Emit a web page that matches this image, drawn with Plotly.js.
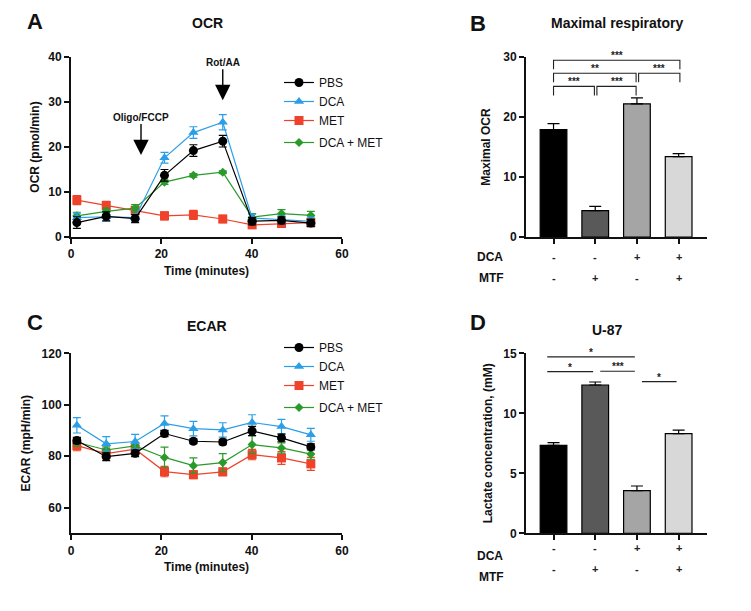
<!DOCTYPE html>
<html>
<head>
<meta charset="utf-8">
<script src="https://cdn.plot.ly/plotly-3.0.1.min.js"></script>
<style>html,body{margin:0;padding:0;background:#fff;}#chart{width:751px;height:611px;}</style>
</head>
<body>
<div id="chart"></div>
<script>
// ---------- DATA ----------
const time = [1.3, 7.8, 14.2, 20.7, 27.1, 33.6, 40.1, 46.6, 53.1];
const seriesNames = ['PBS', 'DCA', 'MET', 'DCA + MET'];

const ocrPBS    = [3.2, 4.6, 4.1, 13.7, 19.2, 21.3, 3.5, 3.7, 3.1];
const ocrDCA    = [4.3, 4.5, 4.3, 17.6, 23.2, 25.5, 4.2, 3.8, 3.5];
const ocrMET    = [8.2, 7.0, 5.9, 4.7, 4.9, 4.0, 2.7, 3.0, 3.2];
const ocrDCAMET = [4.7, 5.7, 6.4, 12.2, 13.7, 14.4, 4.4, 5.2, 4.8];
const ocrErrPBS    = [1.3, 1.0, 0.9, 1.3, 1.3, 1.3, 0.8, 0.8, 0.8];
const ocrErrDCA    = [1.0, 0.9, 0.8, 1.2, 1.3, 1.7, 0.9, 0.9, 0.9];
const ocrErrMET    = [1.0, 0.9, 0.9, 0.9, 1.0, 0.8, 0.8, 0.8, 0.8];
const ocrErrDCAMET = [0.8, 0.7, 0.8, 0.5, 0.4, 0.3, 0.8, 0.9, 0.9];

const ecarPBS    = [86.1, 79.8, 81.1, 88.8, 85.8, 85.5, 89.8, 87.1, 83.6];
const ecarDCA    = [92.0, 84.8, 85.7, 92.7, 90.7, 90.2, 93.1, 91.5, 88.3];
const ecarMET    = [84.1, 81.0, 82.7, 74.0, 72.8, 73.9, 80.6, 79.3, 77.0];
const ecarDCAMET = [85.4, 82.4, 84.0, 79.5, 76.3, 77.5, 84.5, 83.2, 80.8];
const ecarErrPBS    = [1.2, 1.5, 1.3, 1.2, 0.9, 1.0, 1.8, 1.5, 1.2];
const ecarErrDCA    = [3.0, 2.8, 2.8, 3.0, 2.8, 2.8, 3.0, 2.8, 2.5];
const ecarErrMET    = [2.0, 2.0, 1.8, 2.0, 1.5, 1.5, 2.0, 2.5, 2.5];
const ecarErrDCAMET = [1.5, 1.2, 1.2, 4.0, 3.0, 3.5, 3.5, 2.0, 2.0];

const groups = [0, 1, 2, 3];
const dcaSigns = ['-', '-', '+', '+'];
const mtfSigns = ['-', '+', '-', '+'];
const maxOCR    = [17.9, 4.4, 22.2, 13.4];
const maxOCRErr = [1.0, 0.7, 1.0, 0.5];
const lactate    = [7.33, 12.36, 3.56, 8.3];
const lactateErr = [0.22, 0.25, 0.38, 0.3];

// comparisons: [from, to, label, level]
const compB = [[0, 1, '***', 25.1], [1, 2, '***', 25.1], [0, 2, '**', 27.3], [2, 3, '***', 27.3], [0, 3, '***', 29.45]];
const compD = [[0, 2, '*', 14.7], [0, 1, '*', 13.47], [1, 2, '***', 13.5], [2, 3, '*', 12.64]];

const injections = [[15.5, 'Oligo/FCCP', 18.2], [33.6, 'Rot/AA', 30.4]];

// ---------- STYLE ----------
const W = 751, H = 611;
const FONT = 'Liberation Sans, Arial, sans-serif';
const colors = ['#000000', '#2b9ee8', '#f0412a', '#2a9a2a'];
const symbols = ['circle', 'triangle-up', 'square', 'diamond'];
const msizes = [9, 9, 9, 7];
const barColors = ['#000000', '#595959', '#a5a5a5', '#d8d8d8'];

const px = v => v / W;
const py = v => 1 - v / H;

const traces = [];
const ocrSets = [[ocrPBS, ocrErrPBS], [ocrDCA, ocrErrDCA], [ocrMET, ocrErrMET], [ocrDCAMET, ocrErrDCAMET]];
const ecarSets = [[ecarPBS, ecarErrPBS], [ecarDCA, ecarErrDCA], [ecarMET, ecarErrMET], [ecarDCAMET, ecarErrDCAMET]];

function lineTrace(i, ys, errs, xa, ya, leg) {
  return {
    type: 'scatter', mode: 'lines+markers', x: time, y: ys, name: seriesNames[i],
    xaxis: xa, yaxis: ya, legend: leg, legendgroup: (i === 3 ? 'g2' : 'g1') + leg, legendrank: i + 1,
    line: {color: colors[i], width: 1.2},
    marker: {color: colors[i], symbol: symbols[i], size: msizes[i]},
    error_y: {type: 'data', array: errs, color: colors[i], thickness: 1.2, width: 4},
    cliponaxis: false
  };
}
// draw order: PBS on top of others like reference
[2, 3, 1, 0].forEach(i => traces.push(lineTrace(i, ocrSets[i][0], ocrSets[i][1], 'x', 'y', 'legend')));
[2, 3, 1, 0].forEach(i => traces.push(lineTrace(i, ecarSets[i][0], ecarSets[i][1], 'x2', 'y2', 'legend2')));

function barTrace(vals, errs, xa, ya) {
  return {
    type: 'bar', x: groups, y: vals, xaxis: xa, yaxis: ya, width: 0.64, showlegend: false,
    marker: {color: barColors, line: {color: '#000', width: 1.2}},
    error_y: {type: 'data', symmetric: false, array: errs, arrayminus: groups.map(() => 0), color: '#000', thickness: 1.2, width: 6}
  };
}
traces.push(barTrace(maxOCR, maxOCRErr, 'x3', 'y3'));
traces.push(barTrace(lactate, lactateErr, 'x4', 'y4'));

const tickFont = {family: FONT, size: 12, weight: 'bold', color: '#111'};
const titleFont = {family: FONT, size: 12, weight: 'bold', color: '#111'};
function axis(domain, range, extra) {
  return Object.assign({
    domain: domain, range: range, showline: true, linewidth: 2, linecolor: '#111',
    ticks: 'outside', ticklen: 5, tickwidth: 2, tickcolor: '#111', showgrid: false, zeroline: false,
    tickfont: tickFont, fixedrange: true
  }, extra);
}
const lineXdom = [px(71), px(342)];
const barXdom = [px(526), px(707)];
const topYdom = [py(237), py(57)];
const botYdom = [py(533.3), py(353.3)];

const annotations = [];
const shapes = [];
function txt(x, y, text, size, extra) {
  annotations.push(Object.assign({xref: 'paper', yref: 'paper', x: px(x), y: py(y), text: text, showarrow: false,
    xanchor: 'center', yanchor: 'middle', font: {family: FONT, size: size, weight: 'bold', color: '#111'}}, extra || {}));
}
txt(35, 22, 'A', 22); txt(478, 23, 'B', 22); txt(35, 322, 'C', 22); txt(478, 322, 'D', 22);
txt(207, 23, 'OCR', 14); txt(617, 23, 'Maximal respiratory', 14); txt(207, 326, 'ECAR', 14); txt(607, 330, 'U-87', 14);

// injection arrows
injections.forEach(([t, label, tipY]) => {
  annotations.push({xref: 'x', yref: 'y', x: t, y: tipY, text: label, showarrow: true, arrowhead: 2, arrowsize: 2.2,
    arrowwidth: 1.4, arrowcolor: '#000', ax: 0, ay: -38, font: {family: FONT, size: 10, weight: 'bold', color: '#111'}});
});

// DCA / MTF rows
[[256.7, 277.8, 'x3'], [556, 577, 'x4']].forEach(([yD, yM, xa]) => {
  txt(490, yD, 'DCA', 12); txt(491, yM, 'MTF', 12);
  groups.forEach((g, k) => {
    annotations.push({xref: xa, yref: 'paper', x: g, y: py(yD), text: dcaSigns[k], showarrow: false,
      font: {family: FONT, size: 11, weight: 'bold', color: '#222'}});
    annotations.push({xref: xa, yref: 'paper', x: g, y: py(yM), text: mtfSigns[k], showarrow: false,
      font: {family: FONT, size: 11, weight: 'bold', color: '#222'}});
  });
});

// significance brackets B
const sline = {color: '#222', width: 1.1};
const sfont = {family: FONT, size: 10, weight: 'bold', color: '#222'};
compB.forEach(([i, j, lab, lev]) => {
  const x0 = i + (i > 0 ? 0.04 : 0), x1 = j - (j < 3 ? 0.02 : -0.03), drop = 1.5;
  shapes.push({type: 'path', xref: 'x3', yref: 'y3', path: `M${x0},${lev - drop} L${x0},${lev} L${x1},${lev} L${x1},${lev - drop}`, line: sline});
  annotations.push({xref: 'x3', yref: 'y3', x: (x0 + x1) / 2, y: lev, yanchor: 'bottom', yshift: -3, text: lab, showarrow: false, font: sfont});
});
// significance lines D
compD.forEach(([i, j, lab, lev]) => {
  const x0 = i === 0 ? -0.15 : i + 0.12, x1 = j - 0.05;
  shapes.push({type: 'line', xref: 'x4', yref: 'y4', x0: x0, x1: x1, y0: lev, y1: lev, line: sline});
  annotations.push({xref: 'x4', yref: 'y4', x: (x0 + x1) / 2, y: lev, yanchor: 'bottom', yshift: -3, text: lab, showarrow: false, font: sfont});
});

const legFont = {family: FONT, size: 12, color: '#111'};
const layout = {
  width: W, height: H, autosize: false, margin: {l: 0, r: 0, t: 0, b: 0},
  paper_bgcolor: '#fff', plot_bgcolor: 'rgba(0,0,0,0)',
  font: {family: FONT},
  xaxis: axis(lineXdom, [0, 60], {anchor: 'y', tickvals: [0, 20, 40, 60], title: {text: 'Time (minutes)', font: titleFont, standoff: 6}}),
  yaxis: axis(topYdom, [0, 40], {anchor: 'x', tickvals: [0, 10, 20, 30, 40], title: {text: 'OCR (pmol/min)', font: titleFont, standoff: 6}}),
  xaxis2: axis(lineXdom, [0, 60], {anchor: 'y2', tickvals: [0, 20, 40, 60], title: {text: 'Time (minutes)', font: titleFont, standoff: 6}}),
  yaxis2: axis(botYdom, [50, 120], {anchor: 'x2', tickvals: [60, 80, 100, 120], title: {text: 'ECAR (mpH/min)', font: titleFont, standoff: 8}}),
  xaxis3: axis(barXdom, [-0.66, 3.68], {anchor: 'y3', tickvals: groups, showticklabels: false}),
  yaxis3: axis(topYdom, [0, 30], {anchor: 'x3', tickvals: [0, 10, 20, 30], title: {text: 'Maximal OCR', font: titleFont, standoff: 10}}),
  xaxis4: axis(barXdom, [-0.66, 3.68], {anchor: 'y4', tickvals: groups, showticklabels: false}),
  yaxis4: axis(botYdom, [0, 15], {anchor: 'x4', tickvals: [0, 5, 10, 15], title: {text: 'Lactate concentration, (mM)', font: titleFont, standoff: 8}}),
  legend: {x: px(279), y: py(68), xanchor: 'left', yanchor: 'top', font: legFont, bgcolor: 'rgba(0,0,0,0)',
    traceorder: 'grouped', tracegroupgap: 3, itemwidth: 30},
  legend2: {x: px(279), y: py(333), xanchor: 'left', yanchor: 'top', font: legFont, bgcolor: 'rgba(0,0,0,0)',
    traceorder: 'grouped', tracegroupgap: 3, itemwidth: 30},
  showlegend: true,
  annotations: annotations, shapes: shapes
};
Plotly.newPlot('chart', traces, layout, {staticPlot: true, displayModeBar: false});
</script>
</body>
</html>
